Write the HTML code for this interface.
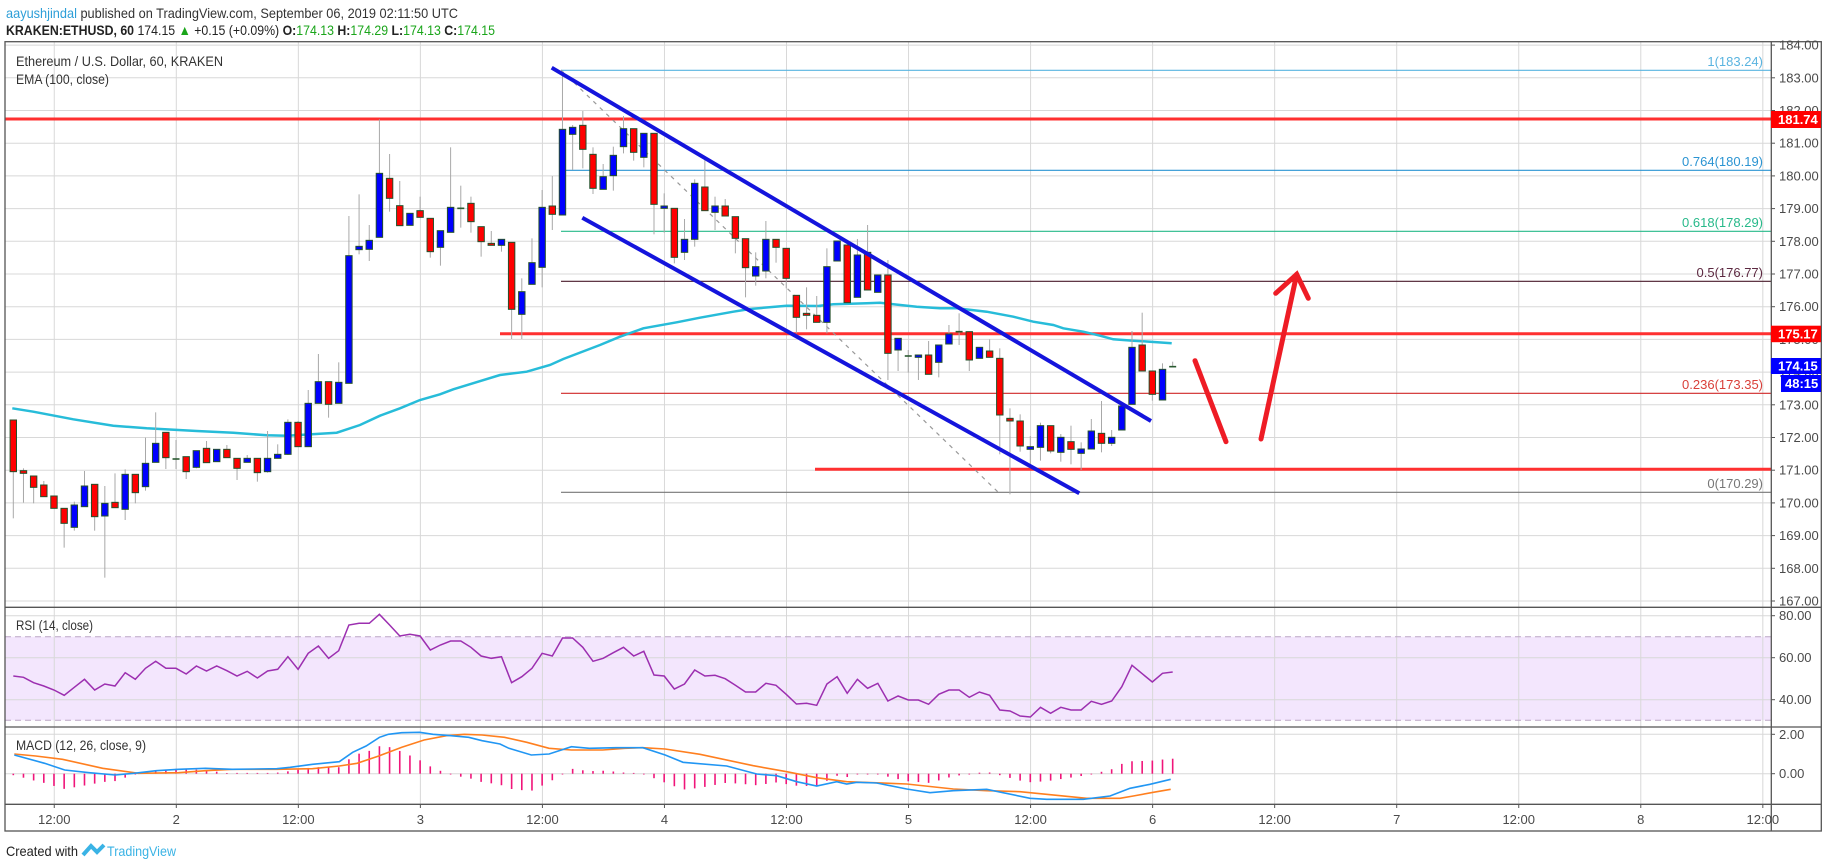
<!DOCTYPE html>
<html><head><meta charset="utf-8">
<style>
html,body{margin:0;padding:0;background:#fff;}
svg{display:block;font-family:"Liberation Sans",sans-serif;}
</style></head>
<body>
<svg id="s" width="1828" height="868" viewBox="0 0 1828 868" xmlns="http://www.w3.org/2000/svg">
<defs>
<clipPath id="cm"><rect x="5" y="42" width="1766" height="565"/></clipPath>
<clipPath id="cr"><rect x="5" y="607" width="1766" height="120"/></clipPath>
<clipPath id="cd"><rect x="5" y="727" width="1766" height="77"/></clipPath>
</defs>
<rect width="1828" height="868" fill="#fff"/>
<!-- header -->
<text x="6" y="18" font-size="14" textLength="452" lengthAdjust="spacingAndGlyphs"><tspan fill="#2e9fd8">aayushjindal</tspan><tspan fill="#333"> published on TradingView.com, September 06, 2019 02:11:50 UTC</tspan></text>
<text x="6" y="35" font-size="14" fill="#222" textLength="489" lengthAdjust="spacingAndGlyphs"><tspan font-weight="bold">KRAKEN:ETHUSD, 60</tspan> 174.15 <tspan fill="#1aa51a">▲</tspan> +0.15 (+0.09%) <tspan font-weight="bold">O:</tspan><tspan fill="#1aa51a">174.13</tspan> <tspan font-weight="bold">H:</tspan><tspan fill="#1aa51a">174.29</tspan> <tspan font-weight="bold">L:</tspan><tspan fill="#1aa51a">174.13</tspan> <tspan font-weight="bold">C:</tspan><tspan fill="#1aa51a">174.15</tspan></text>

<!-- RSI band -->
<rect x="5" y="636.7" width="1766" height="83.6" fill="#f3e6fd"/>
<g id="grid" stroke="#d8d8d8" stroke-width="1"></g>
<line x1="5" y1="636.7" x2="1771" y2="636.7" stroke="#bba6c6" stroke-dasharray="6,4"/>
<line x1="5" y1="720.3" x2="1771" y2="720.3" stroke="#bba6c6" stroke-dasharray="6,4"/>

<g clip-path="url(#cm)" id="main">
<line x1="5" y1="119" x2="1771" y2="119" stroke="#ff3030" stroke-width="3"/>
<line x1="500" y1="333.8" x2="1771" y2="333.8" stroke="#ff3030" stroke-width="3"/>
<line x1="815" y1="469.3" x2="1771" y2="469.3" stroke="#ff3030" stroke-width="3"/>
<line x1="561" y1="70.3" x2="1771" y2="70.3" stroke="#5ab4e0" stroke-width="1.2"/>
<line x1="561" y1="170.3" x2="1771" y2="170.3" stroke="#2b94d2" stroke-width="1.2"/>
<line x1="561" y1="231.3" x2="1771" y2="231.3" stroke="#27b98a" stroke-width="1.2"/>
<line x1="561" y1="281.3" x2="1771" y2="281.3" stroke="#4a1c2c" stroke-width="1.2"/>
<line x1="561" y1="393.3" x2="1771" y2="393.3" stroke="#d02828" stroke-width="1.2"/>
<line x1="561" y1="492.3" x2="1771" y2="492.3" stroke="#777" stroke-width="1.2"/>
<line x1="561" y1="70" x2="998" y2="492" stroke="#999" stroke-width="1.2" stroke-dasharray="4,5"/>
<g font-size="13" text-anchor="end">
<text x="1763" y="66" fill="#5ab4e0">1(183.24)</text>
<text x="1763" y="166" fill="#2b94d2">0.764(180.19)</text>
<text x="1763" y="227" fill="#27b98a">0.618(178.29)</text>
<text x="1763" y="277" fill="#5c2840">0.5(176.77)</text>
<text x="1763" y="389" fill="#d9403a">0.236(173.35)</text>
<text x="1763" y="488" fill="#777">0(170.29)</text>
</g>
<g id="ema"></g>
<g id="candles"></g>
<line x1="551.7" y1="67.7" x2="1151" y2="421" stroke="#1414dc" stroke-width="4"/>
<line x1="582.3" y1="217.7" x2="1079.3" y2="493.3" stroke="#1414dc" stroke-width="4"/>
<g stroke="#ee1c25" stroke-width="5" stroke-linecap="round" fill="none">
<line x1="1195" y1="360.7" x2="1226" y2="441.7"/>
<line x1="1261" y1="439" x2="1296.7" y2="274.3"/>
<polyline points="1275.7,293.3 1296.7,274.3 1308.3,298.3"/>
</g>
</g>
<g clip-path="url(#cr)"><polyline id="rsi" fill="none" stroke="#9c2fb0" stroke-width="1.5"/></g>
<g clip-path="url(#cd)" id="macd"></g>

<text x="16" y="66" font-size="14" fill="#333" textLength="207" lengthAdjust="spacingAndGlyphs">Ethereum / U.S. Dollar, 60, KRAKEN</text>
<text x="16" y="84" font-size="14" fill="#333" textLength="93" lengthAdjust="spacingAndGlyphs">EMA (100, close)</text>
<text x="16" y="630" font-size="14" fill="#333" textLength="77" lengthAdjust="spacingAndGlyphs">RSI (14, close)</text>
<text x="16" y="750" font-size="14" fill="#333" textLength="130" lengthAdjust="spacingAndGlyphs">MACD (12, 26, close, 9)</text>

<g stroke="#555" stroke-width="1.3" fill="none">
<rect x="5" y="41.7" width="1816.3" height="789.3"/>
<line x1="1771.3" y1="41.7" x2="1771.3" y2="831"/>
<line x1="5" y1="607.3" x2="1821" y2="607.3"/>
<line x1="5" y1="727" x2="1821" y2="727"/>
<line x1="5" y1="804.3" x2="1821" y2="804.3"/>
</g>
<g id="axis" font-size="13" fill="#4a4a4a"></g>

<rect x="1771" y="111" width="50" height="17" fill="#ff0000"/>
<text x="1778" y="124" font-size="13" font-weight="bold" fill="#fff">181.74</text>
<rect x="1771" y="325.7" width="50" height="16.5" fill="#ff0000"/>
<text x="1778" y="338.5" font-size="13" font-weight="bold" fill="#fff">175.17</text>
<rect x="1771" y="358" width="50" height="16" fill="#0000ff"/>
<text x="1778" y="370.5" font-size="13" font-weight="bold" fill="#fff">174.15</text>
<rect x="1781" y="375" width="40" height="17" fill="#0000ff"/>
<text x="1785" y="388" font-size="13" font-weight="bold" fill="#fff">48:15</text>

<text x="6" y="856" font-size="14" fill="#222" textLength="72" lengthAdjust="spacingAndGlyphs">Created with</text>
<path d="M83 855 L91 846 L97 852 L104 845" stroke="#3ab3e5" stroke-width="4" fill="none"/>
<text x="107" y="856" font-size="14" fill="#3ab3e5" textLength="69" lengthAdjust="spacingAndGlyphs">TradingView</text>
</svg>
<script>
(function(){
var NS='http://www.w3.org/2000/svg';
function el(t,a,p){var e=document.createElementNS(NS,t);for(var k in a)e.setAttribute(k,a[k]);p.appendChild(e);return e;}
var grid=document.getElementById('grid'),axis=document.getElementById('axis');
function py(p){return 437.5-(p-172)*32.7;}
for(var p=167;p<=184;p++){var y=py(p);el('line',{x1:5,y1:y,x2:1771,y2:y},grid);
 el('line',{x1:1771,y1:y,x2:1775,y2:y,stroke:'#555'},axis);
 var t=el('text',{x:1779,y:y+4.5},axis);t.textContent=p.toFixed(2);}
[[80,615.7],[60,657.7],[40,699.7]].forEach(function(a){el('line',{x1:5,y1:a[1],x2:1771,y2:a[1]},grid);el('line',{x1:1771,y1:a[1],x2:1775,y2:a[1],stroke:'#555'},axis);var t=el('text',{x:1779,y:a[1]+4.5},axis);t.textContent=a[0].toFixed(2);});
[[2,734.3],[0,773.7]].forEach(function(a){el('line',{x1:5,y1:a[1],x2:1771,y2:a[1]},grid);el('line',{x1:1771,y1:a[1],x2:1775,y2:a[1],stroke:'#555'},axis);var t=el('text',{x:1779,y:a[1]+4.5},axis);t.textContent=a[0].toFixed(2);});
var labs=['12:00','2','12:00','3','12:00','4','12:00','5','12:00','6','12:00','7','12:00','8','12:00'];
for(var i=0;i<labs.length;i++){var x=176.3+10.17*12*(i-1);el('line',{x1:x,y1:42,x2:x,y2:804},grid);
 el('line',{x1:x,y1:804,x2:x,y2:808,stroke:'#555'},axis);
 var t=el('text',{x:x,y:824,'text-anchor':'middle'},axis);t.textContent=labs[i];}
var C=[['r',1020,1175,1020,1315],['r',1172,1180,1165,1268],['r',1188,1222,1188,1270],['r',1215,1250,1203,1250],['r',1248,1285,1248,1285],['r',1285,1330,1285,1403],['b',1275,1342,1265,1352],['b',1218,1280,1173,1280],['r',1213,1310,1213,1352],['b',1270,1308,1218,1493],['r',1267,1283,1180,1283],['b',1183,1288,1168,1320],['r',1183,1238,1183,1270],['b',1150,1220,1073,1232],['b',1090,1147,997,1147],['r',1057,1133,1057,1167],['d',1135,1139,1080,1167],['r',1130,1175,1130,1197],['b',1112,1162,1112,1165],['r',1105,1148,1083,1148],['b',1108,1145,1108,1145],['r',1108,1133,1095,1133],['r',1135,1165,1135,1200],['b',1135,1147,1125,1147],['r',1135,1178,1135,1205],['b',1135,1175,1053,1178],['b',1123,1135,1093,1135],['b',1027,1123,1018,1125],['r',1027,1100,1023,1100],['b',970,1100,930,1100],['b',905,970,822,970],['r',905,973,905,1013],['b',907,970,847,970],['b',527,910,408,910],['b',499,509,343,523],['b',481,508,435,543],['b',280,472,118,472],['r',295,355,222,395],['r',377,437,303,437],
['b',520,556,520,556],['r',512,532,470,532],['r',535,635,535,653],['b',572,622,572,677],['b',502,577,322,577],['d',503,507,437,563],['r',490,545,470,578],['r',560,605,560,650],['r',610,616,573,616],['b',598,616,598,635],['r',607,808,607,897],['b',755,823,715,897],['b',668,733,595,733],['b',502,682,450,742],['r',498,523,408,570],['b',268,525,92,525],['b',262,283,255,390],['r',256,328,213,385],['r',343,445,322,462],['b',410,448,372,448],['b',346,407,320,452],['b',266,320,228,340],['r',266,337,266,362],['b',280,352,280,382],['r',280,493,280,583],['b',498,505,460,578],['r',505,652,505,670],['b',598,637,537,660],['b',430,598,418,620],['r',441,512,360,512],['b',498,517,470,570],['r',498,528,477,528],['r',530,595,530,640],['r',596,683,596,772],['b',680,708,637,737],['b',598,693,543,715],['r',598,622,598,668],['r',625,715,625,745],['r',766,832,766,880],['r',820,826,742,868],['r',826,847,768,847],
['b',680,847,625,880],['b',603,663,603,663],['r',615,788,615,788],['b',645,772,597,772],['r',637,750,555,750],['b',705,757,705,757],['r',705,940,660,1020],['b',895,930,895,993],['d',946,950,930,998],['b',945,952,945,1020],['r',945,1003,903,1003],['b',915,967,915,1012],['b',882,912,855,912],['d',873,877,820,915],['r',875,960,875,993],['b',922,955,922,955],['r',933,952,898,952],['r',955,1125,925,1243],['r',1135,1143,1105,1363],['r',1143,1218,1123,1235],['b',1220,1228,1188,1275],['b',1157,1222,1148,1262],['r',1157,1233,1157,1240],['b',1192,1237,1182,1265],['r',1205,1228,1157,1273],['b',1227,1240,1207,1290],['b',1173,1227,1137,1227],['r',1180,1210,1083,1237],['b',1192,1210,1170,1218],['b',1098,1170,1098,1170],['b',922,1093,873,1093],['r',915,993,818,993],['r',993,1063,993,1082],['b',988,1080,970,1080],['d',978,982,965,982]];
var cg=document.getElementById('candles');
function cx(i){return 13.3+10.17*i;}
C.forEach(function(c,i){var off=i<39?80:40,x=cx(i);
 var t=off+c[1]/3,b=off+c[2]/3,h=off+c[3]/3,l=off+c[4]/3;
 el('line',{x1:x,y1:h,x2:x,y2:l,stroke:'#a8a8a8','stroke-width':1},cg);
 if(c[0]=='d'){el('rect',{x:x-3.5,y:(t+b)/2-0.8,width:7,height:1.6,fill:'#2a5a30'},cg);}
 else el('rect',{x:x-3.2,y:t,width:6.4,height:Math.max(b-t,1.5),fill:c[0]=='r'?'#ff0000':'#0000ff',stroke:'#24502a','stroke-width':1},cg);
});
var E=[];
[[37,985],[100,995],[220,1018],[340,1037],[440,1045],[590,1053],[700,1058],[800,1066],[860,1067],[1010,1058],[1080,1035],[1140,1007]].forEach(function(p){E.push([p[0]/3,80+p[1]/3]);});
[[0,1105],[60,1080],[120,1063],[160,1048],[300,1005],[380,995],[450,975],[490,957],[600,915],[660,890],[730,865],[830,847],[900,833],[1000,815],[1050,807],[1160,797],[1260,798]].forEach(function(p){E.push([400+p[0]/3,40+p[1]/3]);});
[[60,797],[100,793],[200,790],[240,788],[280,793],[350,800],[420,805],[470,805],[560,815],[640,830],[700,845],[760,855],[790,865],[850,875],[900,887],[940,898],[1000,902],[1050,905],[1115,910]].forEach(function(p){E.push([800+p[0]/3,40+p[1]/3]);});
el('polyline',{points:E.map(function(p){return p[0].toFixed(1)+','+p[1].toFixed(1);}).join(' '),fill:'none',stroke:'#27bcd9','stroke-width':2.5},document.getElementById('ema'));
var R1=[528,532,548,558,570,586,562,538,570,552,558,518,538,505,484,505,505,522,498,513,498,512,528,514,534,513,508,470,508,460,438,475,452,375,370,370,343,375,408,403,408,450,435,423,423,442,468,475,470,548,530,505,460,468,414,414,442,484,475,458,442,468,454,525,528,567,552,510];
var R2=[228,226,236,256,276,276,250,256,283,312,310,316,252,230,280,238,265,250,303,288,300,300,313,283,270,270,292,276,286,330,333,348,351,322,340,322,330,330,304,313,303,260,196,221,246,220,216];
var rp=[];R1.forEach(function(v,i){rp.push(cx(i).toFixed(1)+','+(500+v/3).toFixed(1));});
R2.forEach(function(v,j){rp.push(cx(68+j).toFixed(1)+','+(600+v/3).toFixed(1));});
document.getElementById('rsi').setAttribute('points',rp.join(' '));
function pts(a,sx,ox,oy){return a.map(function(p){return [ox+p[0]/sx,oy+p[1]/3];});}
var B=pts([[32,765],[100,790],[145,810],[200,818],[258,825],[300,820],[350,812],[400,808],[460,805],[520,808],[620,806],[650,802],[700,793],[760,785],[790,757],[820,738],[850,712],[870,703],[900,698],[940,697],[970,703],[1010,707],[1050,712],[1080,722],[1120,732],[1140,745],[1190,765],[1230,762],[1280,740],[1320,745],[1380,743],[1440,743],[1490,765],[1530,787]],2.24,0,500)
 .concat(pts([[80,498],[170,522],[230,527],[290,545],[350,558],[410,545],[440,552],[470,547],[530,549],[620,567],[690,578],[760,572],[860,568],[990,595],[1040,598],[1150,598],[1230,588],[1290,565],[1350,553],[1412,538]],3,700,600));
var O=pts([[32,762],[80,768],[140,778],[230,805],[310,820],[400,818],[460,812],[520,808],[620,808],[700,806],[760,798],[800,790],[850,767],[900,742],[950,720],[1000,707],[1040,703],[1080,705],[1130,712],[1180,727],[1230,745],[1280,750],[1350,750],[1400,745],[1440,743],[1490,747],[1568,763]],2.24,0,500)
 .concat(pts([[160,497],[260,515],[350,533],[440,545],[620,552],[760,567],[860,572],[960,575],[1160,595],[1260,595],[1300,588],[1360,577],[1412,568]],3,700,600));
function interp(a,x){if(x<=a[0][0])return a[0][1];for(var k=1;k<a.length;k++){if(x<=a[k][0]){var f=(x-a[k-1][0])/(a[k][0]-a[k-1][0]);return a[k-1][1]+f*(a[k][1]-a[k-1][1]);}}return a[a.length-1][1];}
var mg=document.getElementById('macd');
for(var i=0;i<115;i++){var x=cx(i);var h=(interp(O,x)-interp(B,x))*1.5;
 if(Math.abs(h)<0.6)h=h<0?-0.8:0.8;
 el('line',{x1:x,y1:773.7,x2:x,y2:773.7-h,stroke:'#f0157a','stroke-width':1.6},mg);}
function pl(a,c){el('polyline',{points:a.map(function(p){return p[0].toFixed(1)+','+p[1].toFixed(1);}).join(' '),fill:'none',stroke:c,'stroke-width':1.6},mg);}
pl(O,'#ff7f1f');pl(B,'#2196f3');
})();
</script>
</body></html>
